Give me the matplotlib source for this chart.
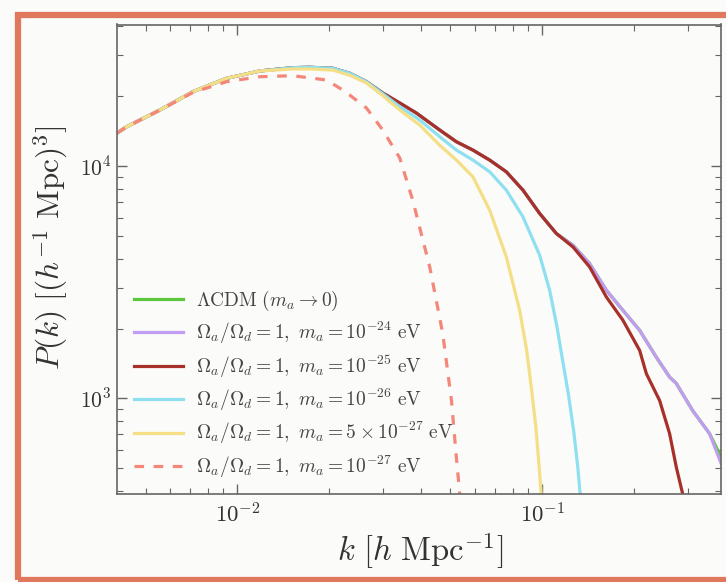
import numpy as np
import matplotlib
matplotlib.use('Agg')
import matplotlib.pyplot as plt
from matplotlib.patches import Rectangle
from matplotlib.ticker import LogLocator, FuncFormatter, NullFormatter

plt.rcParams['mathtext.fontset'] = 'cm'
plt.rcParams['font.family'] = ['DejaVu Serif']

# ---- data ----
k_lcdm = [0.00403, 0.004335, 0.00557, 0.00714, 0.00922, 0.01186, 0.01521, 0.01729,
          0.02056, 0.02337, 0.02653, 0.0300, 0.03412, 0.03868, 0.04613, 0.05233,
          0.05930, 0.06728, 0.07630, 0.08650, 0.09813, 0.1113, 0.1262, 0.1431,
          0.1624, 0.1841, 0.2088, 0.2367, 0.2618, 0.2754, 0.3114, 0.354, 0.391]
P_lcdm = [13870, 14770, 17430, 20890, 23880, 25680, 26530, 26630,
          26370, 25090, 23090, 20640, 18690, 16920, 14300, 12730,
          11720, 10615, 9450, 7880, 6254, 5128, 4565, 3807,
          2921, 2394, 1964, 1507, 1236, 1161, 888, 706, 541]

k_m24 = k_lcdm
P_m24 = P_lcdm[:-1] + [505]

k_m25 = k_lcdm[:22] + [0.1262, 0.1431, 0.1624, 0.1841, 0.2088, 0.2197, 0.2428, 0.2618,
                       0.2754, 0.2889, 0.295]
P_m25 = P_lcdm[:22] + [4489, 3681, 2733, 2169, 1610, 1278, 980, 706,
                       506, 389, 340]

k_m26 = k_lcdm[:11] + [0.0300, 0.03412, 0.03967, 0.04613, 0.05233, 0.05930, 0.06728,
                       0.07630, 0.08650, 0.09813, 0.1058, 0.1116, 0.1167, 0.1221,
                       0.1268, 0.1307, 0.1332, 0.1342]
P_m26 = P_lcdm[:11] + [20500, 18010, 15790, 13380, 11720, 10615, 9450,
                       7880, 6046, 4134, 2921, 2064, 1458, 1030,
                       728, 514, 389, 350]

k_m5e27 = k_lcdm[:6] + [0.01521, 0.01729, 0.02056, 0.02337, 0.02653, 0.0300, 0.03412,
                        0.03967, 0.04613, 0.05233, 0.05930, 0.06728, 0.07630,
                        0.08437, 0.08896, 0.09237, 0.09522, 0.09739, 0.09925, 0.0998]
P_m5e27 = P_lcdm[:6] + [26200, 26200, 25900, 24600, 22790, 20100, 17430,
                        15020, 12300, 10615, 8990, 6461, 4064,
                        2394, 1610, 1083, 765, 540, 389, 350]

k_m27 = [0.00403, 0.004335, 0.00557, 0.00714, 0.00922, 0.01186, 0.01521, 0.01961,
         0.02218, 0.02337, 0.02653, 0.0300, 0.03412, 0.03761, 0.04277, 0.04718,
         0.0504, 0.05206, 0.05365, 0.0545]
P_m27 = [13870, 14770, 17430, 20740, 23090, 24260, 24500, 23480,
         21260, 20230, 17780, 14300, 10830, 7137, 3681, 1906,
         980, 597, 389, 350]

labels = [r'$\Lambda\mathrm{CDM}\ (m_a \to 0)$',
          r'$\Omega_a/\Omega_d = 1,\ m_a = 10^{-24}\ \mathrm{eV}$',
          r'$\Omega_a/\Omega_d = 1,\ m_a = 10^{-25}\ \mathrm{eV}$',
          r'$\Omega_a/\Omega_d = 1,\ m_a = 10^{-26}\ \mathrm{eV}$',
          r'$\Omega_a/\Omega_d = 1,\ m_a = 5 \times 10^{-27}\ \mathrm{eV}$',
          r'$\Omega_a/\Omega_d = 1,\ m_a = 10^{-27}\ \mathrm{eV}$']
colors = ['#5cc63c', '#c09cf2', '#a8302a', '#8ee0f0', '#f5df86', '#f4877a']
styles = ['-', '-', '-', '-', '-', (0, (3, 3))]
series = [(k_lcdm, P_lcdm), (k_m24, P_m24), (k_m25, P_m25),
          (k_m26, P_m26), (k_m5e27, P_m5e27), (k_m27, P_m27)]

bg = '#fbfbf9'
fig = plt.figure(figsize=(7.26, 5.82), dpi=100, facecolor=bg)
ax = fig.add_axes([117/726, 1-494/582, (721-117)/726, (494-24.5)/582])
ax.set_facecolor(bg)

for (k, P), lab, c, ls in zip(series, labels, colors, styles):
    ax.plot(k, P, color=c, ls=ls, lw=2.3, label=lab, solid_joinstyle='round')

ax.set_xscale('log')
ax.set_yscale('log')
ax.set_xlim(0.00403, 0.386)
ax.set_ylim(388, 40700)

fmt = FuncFormatter(lambda v, p: r'$10^{%d}$' % int(round(np.log10(v))))
ax.xaxis.set_major_locator(LogLocator(base=10, numticks=10))
ax.yaxis.set_major_locator(LogLocator(base=10, numticks=10))
ax.xaxis.set_major_formatter(fmt)
ax.yaxis.set_major_formatter(fmt)
ax.xaxis.set_minor_formatter(NullFormatter())
ax.yaxis.set_minor_formatter(NullFormatter())
ax.tick_params(which='both', direction='in', top=True, right=True, color='#666666',
               labelcolor='#333333')
ax.tick_params(axis='x', labelsize=16.5, pad=7)
ax.tick_params(axis='y', labelsize=15.5, pad=4)
ax.tick_params(which='major', length=7, width=1)
ax.tick_params(which='minor', length=4, width=0.8)
for s in ax.spines.values():
    s.set_color('#666666')
    s.set_linewidth(1.2)

ax.set_xlabel(r'$k\ [h\ \mathrm{Mpc}^{-1}]$', fontsize=23.5, color='#333333')
ax.set_ylabel(r'$P(k)\ [(h^{-1}\ \mathrm{Mpc})^3]$', fontsize=22.5, color='#333333')
ax.xaxis.set_label_coords((420-117)/604, -(530-494)/469.5)
ax.yaxis.set_label_coords(-(117-70)/604, (494-248)/469.5)

leg = ax.legend(loc='lower left', bbox_to_anchor=(0.028, 0.03), frameon=False,
                fontsize=14, handlelength=2.5, handletextpad=0.7,
                labelspacing=0.37, borderpad=0, borderaxespad=0)
for t in leg.get_texts():
    t.set_color('#444444')

fig.patches.append(Rectangle((18/726, 2/582), 1.0, (567-2)/582, transform=fig.transFigure,
                             fill=False, ec='#e0785e', lw=4.5, zorder=10))

fig.savefig('out.png', dpi=100, facecolor=bg)
